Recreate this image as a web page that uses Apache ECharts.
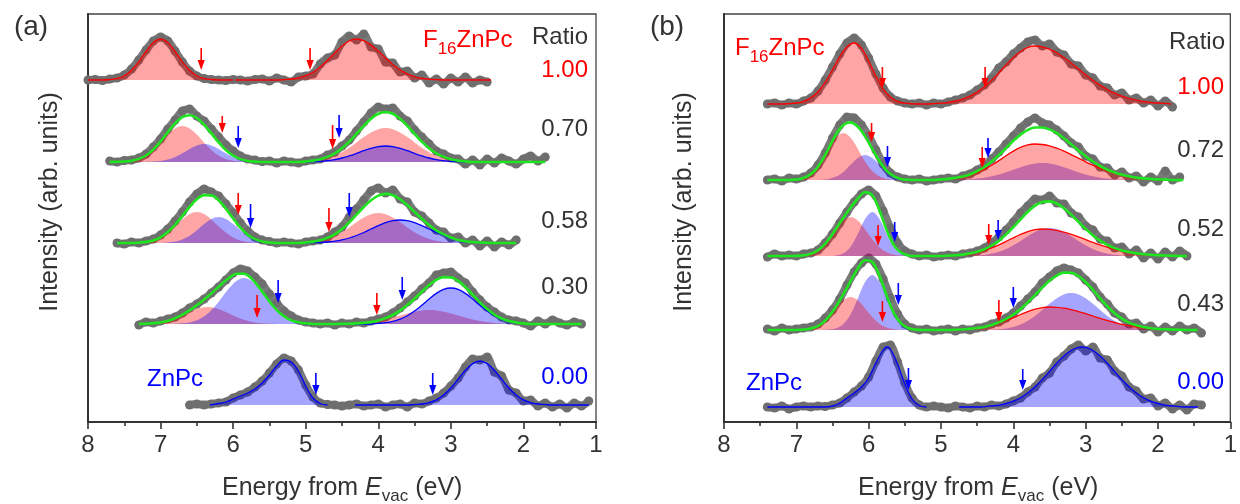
<!DOCTYPE html>
<html><head><meta charset="utf-8">
<script src="https://cdn.jsdelivr.net/npm/echarts@6/dist/echarts.min.js"></script>
<style>html,body{margin:0;padding:0;background:#fff}#c{width:1240px;height:504px}</style>
</head><body><div id="c"></div>
<script>
// ---------- DATA (heights in plot units above each trace's baseline) ----------
const xTicks = [8, 7, 6, 5, 4, 3, 2, 1];
const STEP = 0.1;
const aOffsets = [342, 260, 179, 98, 17];
const bOffsets = [318, 242, 166, 92, 15];
const aStarts = [8.0, 7.7, 7.6, 7.3, 6.6];
const bStarts = [7.4, 7.4, 7.4, 7.4, 7.4];
const aRatios = ['1.00', '0.70', '0.58', '0.30', '0.00'];
const bRatios = ['1.00', '0.72', '0.52', '0.43', '0.00'];

// measured spectra (gray dots)
const a1_data = [0,0.5,-0.5,1,2,5,11,20,30,39,43,39,29,18,9,4,1.5,0.5,0,-0.5,0.5,0,-1,0.5,1,-1,2,0,-2,3,4,6,16,22,25,38,44,40,46,33,31,18,17,8,9,2,5,-3,1,-4,2,-2,3,-3,0,-2];
const a2_data = [1,0,1.5,2,4,8,15,23,33,42,51,53,46,41,33,25,17,11,6,3,2,0.5,1,-1,1,0,-1,1,2,3,7,10,16,22,31,40,49,55,53,54,46,41,32,25,18,11,8,4,3,-2,2,-3,3,-1,4,1,-2,3,6,1,5];
const a3_data = [0,-1,1,0,2,4,8,14,22,31,41,49,54,51,47,39,30,20,12,6,3,1.5,0,1,0,-1,1,2,3,6,11,16,26,34,43,52,55,50,53,44,41,31,27,20,13,11,5,6,0,3,-3,2,-4,1,-2,3];
const a4_data = [-1,2,1,3,5,7,11,16,20,25,31,37,44,51,55,53,47,40,30,21,13,8,4,2,1,0,1,-1,1,0,2,1,3,5,7,11,16,22,28,35,41,49,51,52,46,41,32,24,17,12,7,4,3,1,-2,3,0,4,1,-1,2,0];
const a5_data = [0,1,0,1,2,3,7,10,13,18,24,32,41,47,44,35,20,8,2,0.5,0,-1,0,1,-1,0,1,-2,0,1,-2,2,1,4,7,12,19,27,38,46,45,48,33,29,15,12,4,5,-1,2,-2,1,-3,2,-1,4];
const b1_data = [0,1,-1,1,0,3,6,13,24,37,50,61,66,59,46,30,16,7,3,1,0,1,-1,1,0,2,4,6,9,14,19,26,36,42,50,56,62,64,58,60,52,49,40,38,29,26,18,16,9,11,4,6,1,4,-2,3,-3];
const b2_data = [0,1,-1,2,1,3,7,15,27,42,55,63,62,55,44,30,16,7,3,1,0,1,-1,0,1,2,1,4,6,10,14,21,28,36,44,52,58,62,57,55,50,44,37,33,24,21,13,12,5,8,2,4,-2,3,-1,9,0,3];
const b3_data = [-1,2,0,1,0,2,3,6,13,22,33,44,54,62,66,60,45,28,13,5,2,0,1,-1,0,1,0,2,3,5,8,13,19,26,34,43,50,57,56,60,53,52,43,39,30,26,17,15,8,9,2,6,-2,3,-3,4,-1,5,0];
const b4_data = [1,-1,2,0,1,2,3,6,12,20,31,45,58,67,72,66,51,32,16,6,2,0,1,-1,0,1,-1,1,0,2,3,6,8,12,17,24,31,38,47,53,59,62,60,57,50,43,33,26,17,13,6,7,1,4,-2,3,-1,4,0,2,-3];
const b5_data = [0,-1,1,-2,0,1,0,1,0.5,2,4,9,15,21,30,46,60,62,45,24,9,2,0,1,0,-1,1,0,-1,1,0,2,1,3,6,9,15,20,29,34,45,51,58,62,56,60,49,47,36,31,20,16,8,9,1,4,-2,2,-3,3,2];

// fitted components [energy, height]
const a1_red1 = [[8.0,0],[7.8,0],[7.7,0.5],[7.6,1.6],[7.5,4.3],[7.4,9.7],[7.3,18.2],[7.2,28.5],[7.1,37.4],[7.0,41],[6.9,37.4],[6.8,28.5],[6.7,18.2],[6.6,9.7],[6.5,4.3],[6.4,1.6],[6.3,0.5],[6.2,0],[6.0,0]];
const a1_red2 = [[5.97,0],[5.4,0],[5.3,0.4],[5.2,1.0],[5.1,2.2],[5.0,4.3],[4.9,7.8],[4.8,13.0],[4.7,19.7],[4.6,27.1],[4.5,34.1],[4.4,39.2],[4.3,41],[4.2,39.4],[4.1,35.1],[4.0,29.0],[3.9,22.1],[3.8,15.6],[3.7,10.2],[3.6,6.2],[3.5,3.5],[3.4,1.8],[3.3,0.9],[3.2,0.4],[3.1,0],[2.45,0]];
const a2_red1 = [[7.6,0],[7.5,0.5],[7.4,1.3],[7.3,3.1],[7.2,6.5],[7.1,12.0],[7.0,19.4],[6.9,27.4],[6.8,33.6],[6.7,36],[6.6,33.6],[6.5,27.4],[6.4,19.4],[6.3,12.0],[6.2,6.5],[6.1,3.1],[6.0,1.3],[5.9,0.5],[5.8,0]];
const a2_blue1 = [[7.2,0],[7.1,0.4],[7.0,1.0],[6.9,2.4],[6.8,5.0],[6.7,8.8],[6.6,13.1],[6.5,16.6],[6.4,18],[6.3,16.6],[6.2,13.1],[6.1,8.8],[6.0,5.0],[5.9,2.4],[5.8,1.0],[5.7,0.4],[5.6,0]];
const a2_red2 = [[5.1,0],[5.0,0.5],[4.9,1.1],[4.8,2.0],[4.7,3.7],[4.6,6.2],[4.5,9.8],[4.4,14.2],[4.3,19.6],[4.2,24.9],[4.1,29.6],[4.0,32.8],[3.9,34],[3.8,32.8],[3.7,29.6],[3.6,24.9],[3.5,19.6],[3.4,14.2],[3.3,9.8],[3.2,6.2],[3.1,3.7],[3.0,2.0],[2.9,1.1],[2.8,0.5],[2.7,0]];
const a2_blue2 = [[5.1,0],[5.0,0],[4.9,0.3],[4.8,0.7],[4.7,1.4],[4.6,2.4],[4.5,4.0],[4.4,6.1],[4.3,8.6],[4.2,11.3],[4.1,13.7],[4.0,15.4],[3.9,16],[3.8,15.4],[3.7,13.7],[3.6,11.3],[3.5,8.6],[3.4,6.1],[3.3,4.0],[3.2,2.4],[3.1,1.4],[3.0,0.7],[2.9,0.3],[2.8,0],[2.6,0]];
const a2_fit = [[7.7,0],[7.6,0.2],[7.5,0.5],[7.4,1.3],[7.3,3.1],[7.2,6.5],[7.1,12.4],[7.0,20.4],[6.9,29.8],[6.8,38.6],[6.7,44.8],[6.6,46.7],[6.5,44.0],[6.4,37.4],[6.3,28.6],[6.2,19.6],[6.1,11.9],[6.0,6.3],[5.9,2.9],[5.8,1.0],[5.7,0.4],[5.6,0],[5.1,0],[5.0,0.5],[4.9,1.4],[4.8,2.7],[4.7,5.1],[4.6,8.6],[4.5,13.8],[4.4,20.3],[4.3,28.2],[4.2,36.2],[4.1,43.3],[4.0,48.2],[3.9,50],[3.8,48.2],[3.7,43.3],[3.6,36.2],[3.5,28.2],[3.4,20.3],[3.3,13.8],[3.2,8.6],[3.1,5.1],[3.0,2.7],[2.9,1.4],[2.8,0.5],[2.7,0],[1.7,0]];
const a3_red1 = [[7.4,0],[7.3,0.4],[7.2,1.1],[7.1,2.6],[7.0,5.6],[6.9,10.4],[6.8,16.7],[6.7,23.6],[6.6,29.0],[6.5,31],[6.4,29.0],[6.3,23.6],[6.2,16.7],[6.1,10.4],[6.0,5.6],[5.9,2.6],[5.8,1.1],[5.7,0.4],[5.6,0]];
const a3_blue1 = [[7.0,0],[6.9,0.5],[6.8,1.5],[6.7,3.5],[6.6,7.2],[6.5,12.7],[6.4,18.9],[6.3,24.0],[6.2,26],[6.1,24.0],[6.0,18.9],[5.9,12.7],[5.8,7.2],[5.7,3.5],[5.6,1.5],[5.5,0.5],[5.4,0]];
const a3_red2 = [[5.1,0],[5.0,0.5],[4.9,1.1],[4.8,2.2],[4.7,4.1],[4.6,6.9],[4.5,10.8],[4.4,15.6],[4.3,20.8],[4.2,25.5],[4.1,28.8],[4.0,30],[3.9,28.8],[3.8,25.5],[3.7,20.8],[3.6,15.6],[3.5,10.8],[3.4,6.9],[3.3,4.1],[3.2,2.2],[3.1,1.1],[3.0,0.5],[2.9,0]];
const a3_blue2 = [[5.1,0],[5.0,0],[4.9,0.3],[4.8,0.5],[4.7,1.0],[4.6,1.8],[4.5,3.1],[4.4,5.0],[4.3,7.5],[4.2,10.5],[4.1,14.0],[4.0,17.4],[3.9,20.3],[3.8,22.3],[3.7,23],[3.6,22.3],[3.5,20.3],[3.4,17.4],[3.3,14.0],[3.2,10.5],[3.1,7.5],[3.0,5.0],[2.9,3.1],[2.8,1.8],[2.7,1.0],[2.6,0.5],[2.5,0.3],[2.4,0]];
const a3_fit = [[7.6,0],[7.4,0],[7.3,0.4],[7.2,1.1],[7.1,2.6],[7.0,5.6],[6.9,10.9],[6.8,18.2],[6.7,27.1],[6.6,36.2],[6.5,43.7],[6.4,47.9],[6.3,47.6],[6.2,42.7],[6.1,34.4],[6.0,24.5],[5.9,15.3],[5.8,8.3],[5.7,3.9],[5.6,1.5],[5.5,0.5],[5.4,0],[5.1,0],[5.0,0.5],[4.9,1.4],[4.8,2.7],[4.7,5.1],[4.6,8.7],[4.5,13.9],[4.4,20.6],[4.3,28.3],[4.2,36.0],[4.1,42.8],[4.0,47.4],[3.9,49.1],[3.8,47.8],[3.7,43.8],[3.6,37.9],[3.5,31.1],[3.4,24.3],[3.3,18.1],[3.2,12.7],[3.1,8.6],[3.0,5.5],[2.9,3.1],[2.8,1.8],[2.7,1.0],[2.6,0.5],[2.5,0.3],[2.4,0],[2.1,0]];
const a4_red1 = [[7.35,0],[7.25,0.2],[7.15,0.5],[7.05,1.1],[6.95,2.3],[6.85,4.2],[6.75,7.0],[6.65,10.3],[6.55,13.6],[6.45,16.1],[6.35,17],[6.25,16.1],[6.15,13.6],[6.05,10.3],[5.95,7.0],[5.85,4.2],[5.75,2.3],[5.65,1.1],[5.55,0.5],[5.45,0.2],[5.35,0]];
const a4_blue1 = [[6.85,0],[6.75,0.4],[6.65,1.0],[6.55,2.5],[6.45,5.4],[6.35,10.4],[6.25,17.8],[6.15,27.0],[6.05,36.2],[5.95,43.3],[5.85,46],[5.75,43.3],[5.65,36.2],[5.55,27.0],[5.45,17.8],[5.35,10.4],[5.25,5.4],[5.15,2.5],[5.05,1.0],[4.95,0.4],[4.85,0]];
const a4_red2 = [[4.6,0],[4.5,0.2],[4.4,0.3],[4.3,0.6],[4.2,1.1],[4.1,1.9],[4.0,3.0],[3.9,4.6],[3.8,6.4],[3.7,8.5],[3.6,10.6],[3.5,12.3],[3.4,13.6],[3.3,14],[3.2,13.6],[3.1,12.3],[3.0,10.6],[2.9,8.5],[2.8,6.4],[2.7,4.6],[2.6,3.0],[2.5,1.9],[2.4,1.1],[2.3,0.6],[2.2,0.3],[2.1,0.2],[2.0,0]];
const a4_blue2 = [[5.0,0],[4.1,0],[4.0,0.6],[3.9,1.3],[3.8,2.6],[3.7,4.9],[3.6,8.3],[3.5,13.0],[3.4,18.7],[3.3,24.9],[3.2,30.6],[3.1,34.6],[3.0,36],[2.9,34.6],[2.8,30.6],[2.7,24.9],[2.6,18.7],[2.5,13.0],[2.4,8.3],[2.3,4.9],[2.2,2.6],[2.1,1.3],[2.0,0.6],[1.9,0],[1.3,0]];
const a4_fit = [[7.3,0],[7.25,0.2],[7.15,0.5],[7.05,1.1],[6.95,2.3],[6.85,4.2],[6.75,7.4],[6.65,11.3],[6.55,16.1],[6.45,21.5],[6.35,27.4],[6.25,33.9],[6.15,40.6],[6.05,46.5],[5.95,50.3],[5.85,50.2],[5.75,45.6],[5.65,37.3],[5.55,27.5],[5.45,18.0],[5.35,10.4],[5.25,5.4],[5.15,2.5],[5.05,1.0],[4.95,0.4],[4.85,0],[4.6,0],[4.5,0.2],[4.4,0.3],[4.3,0.6],[4.2,1.1],[4.1,1.9],[4.0,3.6],[3.9,5.9],[3.8,9.0],[3.7,13.4],[3.6,18.9],[3.5,25.3],[3.4,32.3],[3.3,38.9],[3.2,44.2],[3.1,46.9],[3.0,46.6],[2.9,43.1],[2.8,37.0],[2.7,29.5],[2.6,21.7],[2.5,14.9],[2.4,9.4],[2.3,5.5],[2.2,2.9],[2.1,1.5],[2.0,0.6],[1.9,0],[1.2,0]];
const a5_blue1 = [[6.32,0],[6.2,1.5],[6.1,3],[6.0,6],[5.9,9],[5.8,12],[5.7,16],[5.6,22],[5.5,30],[5.4,39],[5.3,45],[5.2,43],[5.1,34],[5.0,19],[4.9,7],[4.8,1.5],[4.7,0]];
const a5_blue2 = [[4.32,0],[3.6,0],[3.5,0.4],[3.4,1.0],[3.3,2.4],[3.2,5.1],[3.1,10.0],[3.0,17.0],[2.9,25.9],[2.8,34.7],[2.7,41.4],[2.6,44],[2.5,41.4],[2.4,34.7],[2.3,25.9],[2.2,17.0],[2.1,10.0],[2.0,5.1],[1.9,2.4],[1.8,1.0],[1.7,0.4],[1.6,0],[1.1,0]];

const b1_red1 = [[7.4,0],[7.2,0],[7.1,0.4],[7.0,1.0],[6.9,2.7],[6.8,6.2],[6.7,12.3],[6.6,22.0],[6.5,34.3],[6.4,47.3],[6.3,57.2],[6.2,61],[6.1,55.9],[6.0,43.1],[5.9,27.9],[5.8,15.2],[5.7,7.0],[5.6,2.7],[5.5,0.9],[5.4,0.2],[5.3,0]];
const b1_red2 = [[5.33,0],[5.2,0],[5.1,0.4],[5.0,0.9],[4.9,1.7],[4.8,3.0],[4.7,4.9],[4.6,7.8],[4.5,11.9],[4.4,17.3],[4.3,23.8],[4.2,31.3],[4.1,39.1],[4.0,46.5],[3.9,52.5],[3.8,56.6],[3.7,58],[3.6,57.2],[3.5,54.9],[3.4,51.2],[3.3,46.5],[3.2,41.0],[3.1,35.2],[3.0,29.3],[2.9,23.8],[2.8,18.9],[2.7,14.4],[2.6,10.8],[2.5,7.8],[2.4,5.6],[2.3,3.8],[2.2,2.6],[2.1,1.7],[2.0,1.0],[1.9,0.6],[1.82,0]];
const b2_red1 = [[7.15,0],[7.05,0.3],[6.95,1.1],[6.85,3.6],[6.75,9.0],[6.65,18.6],[6.55,31.1],[6.45,42.4],[6.35,47],[6.25,42.4],[6.15,31.1],[6.05,18.6],[5.95,9.0],[5.85,3.6],[5.75,1.1],[5.65,0.3],[5.55,0]];
const b2_blue1 = [[6.75,0],[6.65,0.3],[6.55,1.1],[6.45,3.4],[6.35,8.1],[6.25,15.2],[6.15,22.1],[6.05,25],[5.95,22.1],[5.85,15.2],[5.75,8.1],[5.65,3.4],[5.55,1.1],[5.45,0.3],[5.35,0]];
const b2_red2 = [[5.1,0],[5.0,0.6],[4.9,1.1],[4.8,1.9],[4.7,3.0],[4.6,4.8],[4.5,7.4],[4.4,10.7],[4.3,14.8],[4.2,19.4],[4.1,24.3],[4.0,28.9],[3.9,32.6],[3.8,35.1],[3.7,36],[3.6,35.5],[3.5,34.1],[3.4,31.8],[3.3,28.9],[3.2,25.4],[3.1,21.8],[3.0,18.2],[2.9,14.8],[2.8,11.7],[2.7,8.9],[2.6,6.7],[2.5,4.8],[2.4,3.5],[2.3,2.4],[2.2,1.6],[2.1,1.1],[2.0,0.6],[1.9,0.4],[1.8,0]];
const b2_blue2 = [[4.9,0],[4.8,0.2],[4.7,0.4],[4.6,0.7],[4.5,1.4],[4.4,2.3],[4.3,3.7],[4.2,5.5],[4.1,7.8],[4.0,10.3],[3.9,12.8],[3.8,15.0],[3.7,16.5],[3.6,17],[3.5,16.5],[3.4,15.0],[3.3,12.8],[3.2,10.3],[3.1,7.8],[3.0,5.5],[2.9,3.7],[2.8,2.3],[2.7,1.4],[2.6,0.7],[2.5,0.4],[2.4,0.2],[2.3,0]];
const b2_fit = [[7.4,0],[7.15,0],[7.05,0.3],[6.95,1.1],[6.85,3.6],[6.75,9.0],[6.65,18.9],[6.55,32.2],[6.45,45.8],[6.35,55.1],[6.25,57.6],[6.15,53.2],[6.05,43.6],[5.95,31.1],[5.85,18.8],[5.75,9.2],[5.65,3.7],[5.55,1.1],[5.45,0.3],[5.35,0],[5.1,0],[5.0,0.6],[4.9,1.1],[4.8,2.1],[4.7,3.4],[4.6,5.5],[4.5,8.8],[4.4,13.0],[4.3,18.5],[4.2,24.9],[4.1,32.1],[4.0,39.2],[3.9,45.4],[3.8,50.1],[3.7,52.5],[3.6,52.5],[3.5,50.6],[3.4,46.8],[3.3,41.7],[3.2,35.7],[3.1,29.6],[3.0,23.7],[2.9,18.5],[2.8,14.0],[2.7,10.3],[2.6,7.4],[2.5,5.2],[2.4,3.7],[2.3,2.4],[2.2,1.6],[2.1,1.1],[2.0,0.6],[1.9,0.4],[1.8,0],[1.65,0]];
const b3_red1 = [[7.05,0],[6.95,0.4],[6.85,1.3],[6.75,3.7],[6.65,8.6],[6.55,16.7],[6.45,26.7],[6.35,35.5],[6.25,39],[6.15,35.5],[6.05,26.7],[5.95,16.7],[5.85,8.6],[5.75,3.7],[5.65,1.3],[5.55,0.4],[5.45,0]];
const b3_blue1 = [[6.55,0],[6.45,0.6],[6.35,2.8],[6.25,9.3],[6.15,22.0],[6.05,37.0],[5.95,44],[5.85,37.0],[5.75,22.0],[5.65,9.3],[5.55,2.8],[5.45,0.6],[5.35,0]];
const b3_red2 = [[5.0,0],[4.9,0.4],[4.8,0.8],[4.7,1.4],[4.6,2.3],[4.5,3.6],[4.4,5.5],[4.3,8.1],[4.2,11.1],[4.1,14.6],[4.0,18.2],[3.9,21.6],[3.8,24.4],[3.7,26.3],[3.6,27],[3.5,26.6],[3.4,25.6],[3.3,23.8],[3.2,21.6],[3.1,19.1],[3.0,16.4],[2.9,13.6],[2.8,11.1],[2.7,8.8],[2.6,6.7],[2.5,5.0],[2.4,3.6],[2.3,2.6],[2.2,1.8],[2.1,1.2],[2.0,0.8],[1.9,0.5],[1.8,0.3],[1.7,0]];
const b3_blue2 = [[4.7,0],[4.6,0.3],[4.5,0.6],[4.4,1.2],[4.3,2.4],[4.2,4.2],[4.1,7.0],[4.0,10.7],[3.9,15.1],[3.8,19.8],[3.7,24.0],[3.6,26.9],[3.5,28],[3.4,26.9],[3.3,24.0],[3.2,19.8],[3.1,15.1],[3.0,10.7],[2.9,7.0],[2.8,4.2],[2.7,2.4],[2.6,1.2],[2.5,0.6],[2.4,0.3],[2.3,0]];
const b3_fit = [[7.4,0],[7.05,0],[6.95,0.4],[6.85,1.3],[6.75,3.7],[6.65,8.6],[6.55,16.7],[6.45,27.3],[6.35,38.3],[6.25,48.3],[6.15,57.5],[6.05,63.7],[5.95,60.7],[5.85,45.6],[5.75,25.7],[5.65,10.6],[5.55,3.2],[5.45,0.6],[5.35,0],[5.0,0],[4.9,0.4],[4.8,0.8],[4.7,1.4],[4.6,2.6],[4.5,4.2],[4.4,6.7],[4.3,10.5],[4.2,15.3],[4.1,21.6],[4.0,28.9],[3.9,36.7],[3.8,44.2],[3.7,50.3],[3.6,53.9],[3.5,54.6],[3.4,52.5],[3.3,47.8],[3.2,41.4],[3.1,34.2],[3.0,27.1],[2.9,20.6],[2.8,15.3],[2.7,11.2],[2.6,7.9],[2.5,5.6],[2.4,3.9],[2.3,2.6],[2.2,1.8],[2.1,1.2],[2.0,0.8],[1.9,0.5],[1.8,0.3],[1.7,0],[1.6,0]];
const b4_red1 = [[7.05,0],[6.95,0.2],[6.85,0.8],[6.75,2.5],[6.65,6.3],[6.55,13.0],[6.45,21.8],[6.35,29.8],[6.25,33],[6.15,29.8],[6.05,21.8],[5.95,13.0],[5.85,6.3],[5.75,2.5],[5.65,0.8],[5.55,0.2],[5.45,0]];
const b4_blue1 = [[6.65,0],[6.55,0.4],[6.45,1.7],[6.35,6.1],[6.25,15.8],[6.15,31.6],[6.05,47.9],[5.95,55],[5.85,47.9],[5.75,31.6],[5.65,15.8],[5.55,6.1],[5.45,1.7],[5.35,0.4],[5.25,0]];
const b4_red2 = [[4.9,0],[4.8,0.3],[4.7,0.7],[4.6,1.2],[4.5,2.0],[4.4,3.1],[4.3,4.7],[4.2,6.9],[4.1,9.5],[4.0,12.4],[3.9,15.5],[3.8,18.4],[3.7,20.8],[3.6,22.4],[3.5,23],[3.4,22.7],[3.3,21.8],[3.2,20.3],[3.1,18.4],[3.0,16.3],[2.9,14.0],[2.8,11.6],[2.7,9.5],[2.6,7.5],[2.5,5.7],[2.4,4.3],[2.3,3.1],[2.2,2.2],[2.1,1.5],[2.0,1.0],[1.9,0.7],[1.8,0.4],[1.7,0.3],[1.6,0]];
const b4_blue2 = [[4.4,0],[4.3,0.3],[4.2,0.8],[4.1,1.6],[4.0,3.1],[3.9,5.6],[3.8,9.2],[3.7,14.1],[3.6,20.0],[3.5,26.2],[3.4,31.7],[3.3,35.6],[3.2,37],[3.1,35.6],[3.0,31.7],[2.9,26.2],[2.8,20.0],[2.7,14.1],[2.6,9.2],[2.5,5.6],[2.4,3.1],[2.3,1.6],[2.2,0.8],[2.1,0.3],[2.0,0]];
const b4_fit = [[7.4,0],[7.05,0],[6.95,0.2],[6.85,0.8],[6.75,2.5],[6.65,6.3],[6.55,13.4],[6.45,23.5],[6.35,35.9],[6.25,48.8],[6.15,61.4],[6.05,69.7],[5.95,68.0],[5.85,54.2],[5.75,34.1],[5.65,16.6],[5.55,6.3],[5.45,1.7],[5.35,0.4],[5.25,0],[4.9,0],[4.8,0.3],[4.7,0.7],[4.6,1.2],[4.5,2.0],[4.4,3.1],[4.3,5.0],[4.2,7.7],[4.1,11.1],[4.0,15.5],[3.9,21.1],[3.8,27.6],[3.7,34.9],[3.6,42.4],[3.5,49.2],[3.4,54.4],[3.3,57.4],[3.2,57.3],[3.1,54.0],[3.0,48.0],[2.9,40.2],[2.8,31.6],[2.7,23.6],[2.6,16.7],[2.5,11.3],[2.4,7.4],[2.3,4.7],[2.2,3.0],[2.1,1.8],[2.0,1.0],[1.9,0.7],[1.8,0.4],[1.7,0.3],[1.6,0],[1.45,0]];
const b5_blue1 = [[7.4,0],[6.6,0],[6.5,1],[6.4,4],[6.3,9],[6.2,14],[6.1,20],[6.0,29],[5.9,44],[5.8,57],[5.75,60],[5.7,58],[5.6,43],[5.5,23],[5.4,8],[5.3,1.5],[5.2,0]];
const b5_blue2 = [[4.75,0],[4.45,0],[4.35,0.8],[4.25,1.4],[4.15,2.6],[4.05,4.6],[3.95,7.3],[3.85,11.5],[3.75,16.9],[3.65,23.7],[3.55,31.4],[3.45,39.7],[3.35,47.6],[3.25,54.1],[3.15,58.5],[3.05,60],[2.95,58.5],[2.85,54.1],[2.75,47.6],[2.65,39.7],[2.55,31.4],[2.45,23.7],[2.35,16.9],[2.25,11.5],[2.15,7.3],[2.05,4.6],[1.95,2.6],[1.85,1.4],[1.75,0.8],[1.65,0],[1.45,0]];

// arrows: [trace index, energy, top height, tip height, component]
const aArrows = [[0,6.44,32,10,'r'],[0,4.94,32,10,'r'],[1,6.15,46,29,'r'],[1,5.93,36,14,'b'],[1,4.63,37,13,'r'],[1,4.54,47,24,'b'],[2,5.93,50,28,'r'],[2,5.76,39,15,'b'],[2,4.68,35,11,'r'],[2,4.40,50,26,'b'],[3,5.67,29,6,'r'],[3,5.38,44,21,'b'],[3,4.02,31,9,'r'],[3,3.67,47,24,'b'],[4,4.86,32,10,'b'],[4,3.25,32,10,'b']];
const bArrows = [[0,5.81,37,16,'r'],[0,4.39,37,16,'r'],[1,5.96,57,38,'r'],[1,5.74,34,13,'b'],[1,4.43,33,12,'r'],[1,4.35,42,22,'b'],[2,5.87,31,10,'r'],[2,5.64,34,14,'b'],[2,4.34,32,11,'r'],[2,4.21,36,16,'b'],[3,5.81,29,8,'r'],[3,5.59,47,25,'b'],[3,4.2,30,8,'r'],[3,4.0,43,22,'b'],[4,5.45,39,17,'b'],[4,3.87,38,17,'b']];

// ---------- BUILD ----------
const FONT = 'Liberation Sans, Arial, Helvetica, sans-serif';
const RED = '#ff0000', BLUE = '#0000ff', DARK = '#333333';
const series = [];
function yIdx(panel, k) { return 2 + panel * 5 + k; }
function addData(panel, k, start, vals) {
  series.push({type:'line', xAxisIndex:panel, yAxisIndex:yIdx(panel,k), silent:true,
    data: vals.map((v,i)=>[+(start - i*STEP).toFixed(2), v]),
    symbol:'circle', symbolSize:9, showSymbol:true, smooth:0.2,
    itemStyle:{color:'#6e6e6e'}, lineStyle:{color:'#7a7a7a', width:8, join:'round', cap:'round'}, z:1});
}
function addPeak(panel, k, pts, col, outline, z) {
  const fill = col === 'r' ? 'rgba(255,0,0,0.5)' : 'rgba(0,0,255,0.5)';
  const line = col === 'r' ? RED : BLUE;
  series.push({type:'line', xAxisIndex:panel, yAxisIndex:yIdx(panel,k), silent:true,
    data: pts, smooth:0.35, symbol:'none',
    areaStyle:{color:fill, origin:'auto'},
    lineStyle:{color:line, width: outline ? 1.3 : 0, opacity: outline ? 1 : 0}, z});
}
function addFit(panel, k, pts) {
  series.push({type:'line', xAxisIndex:panel, yAxisIndex:yIdx(panel,k), silent:true,
    data: pts, smooth:0.35, symbol:'none', lineStyle:{color:'#1ee61e', width:2.6}, z:6});
}
function addArrows(panel, arr) {
  for (let k = 0; k < 5; k++) {
    const items = arr.filter(a => a[0] === k).map(a => ({value:[a[1], a[2], a[3]], itemStyle:{color: a[4]==='r' ? RED : BLUE}}));
    series.push({type:'custom', xAxisIndex:panel, yAxisIndex:yIdx(panel,k), silent:true, z:8,
      encode:{x:0, y:[1,2]}, data: items,
      renderItem: function (params, api) {
        const p1 = api.coord([api.value(0), api.value(1)]);
        const p2 = api.coord([api.value(0), api.value(2)]);
        const c = api.visual('color');
        return {type:'group', children:[
          {type:'line', shape:{x1:p1[0], y1:p1[1], x2:p2[0], y2:p2[1]-8}, style:{stroke:c, lineWidth:1.6}},
          {type:'polygon', shape:{points:[[p2[0]-3.6, p2[1]-10],[p2[0]+3.6, p2[1]-10],[p2[0], p2[1]]]}, style:{fill:c}}
        ]};
      }});
  }
}

// panel (a): blue drawn over red
const aData = [a1_data, a2_data, a3_data, a4_data, a5_data];
aData.forEach((d,k)=>addData(0, k, aStarts[k], d));
addPeak(0,0,a1_red1,'r',true,2); addPeak(0,0,a1_red2,'r',true,2);
addPeak(0,1,a2_red1,'r',false,2); addPeak(0,1,a2_blue1,'b',false,3); addPeak(0,1,a2_red2,'r',false,2); addPeak(0,1,a2_blue2,'b',true,3); addFit(0,1,a2_fit);
addPeak(0,2,a3_red1,'r',false,2); addPeak(0,2,a3_blue1,'b',false,3); addPeak(0,2,a3_red2,'r',false,2); addPeak(0,2,a3_blue2,'b',true,3); addFit(0,2,a3_fit);
addPeak(0,3,a4_red1,'r',false,2); addPeak(0,3,a4_blue1,'b',false,3); addPeak(0,3,a4_red2,'r',false,2); addPeak(0,3,a4_blue2,'b',true,3); addFit(0,3,a4_fit);
addPeak(0,4,a5_blue1,'b',true,3); addPeak(0,4,a5_blue2,'b',true,3);
addArrows(0, aArrows);

// panel (b): red drawn over blue
const bData = [b1_data, b2_data, b3_data, b4_data, b5_data];
bData.forEach((d,k)=>addData(1, k, bStarts[k], d));
addPeak(1,0,b1_red1,'r',true,3); addPeak(1,0,b1_red2,'r',true,3);
addPeak(1,1,b2_blue1,'b',false,2); addPeak(1,1,b2_red1,'r',false,3); addPeak(1,1,b2_blue2,'b',false,2); addPeak(1,1,b2_red2,'r',true,3); addFit(1,1,b2_fit);
addPeak(1,2,b3_blue1,'b',false,2); addPeak(1,2,b3_red1,'r',false,3); addPeak(1,2,b3_blue2,'b',false,2); addPeak(1,2,b3_red2,'r',true,3); addFit(1,2,b3_fit);
addPeak(1,3,b4_blue1,'b',false,2); addPeak(1,3,b4_red1,'r',false,3); addPeak(1,3,b4_blue2,'b',false,2); addPeak(1,3,b4_red2,'r',true,3); addFit(1,3,b4_fit);
addPeak(1,4,b5_blue1,'b',true,3); addPeak(1,4,b5_blue2,'b',true,3);
addArrows(1, bArrows);

function xAxisFor(g) {
  return {gridIndex:g, type:'value', min:xTicks[xTicks.length-1], max:xTicks[0], interval:1, inverse:true,
    axisLine:{onZero:false, lineStyle:{color:DARK, width:2}},
    axisTick:{show:true, inside:false, length:7, lineStyle:{color:DARK, width:1.6}},
    minorTick:{show:true, splitNumber:2, length:4, lineStyle:{color:DARK, width:1.6}},
    axisLabel:{fontSize:24, color:DARK, fontFamily:FONT, margin:11},
    splitLine:{show:false}, minorSplitLine:{show:false}};
}
const yAxes = [0,1].map(g=>({gridIndex:g, type:'value', min:0, max:408,
  axisLine:{show:true, onZero:false, lineStyle:{color:DARK, width:2}}, axisTick:{show:false}, axisLabel:{show:false}, splitLine:{show:false}}));
aOffsets.forEach(o=>yAxes.push({gridIndex:0, type:'value', min:-o, max:408-o, show:false, splitLine:{show:false}}));
bOffsets.forEach(o=>yAxes.push({gridIndex:1, type:'value', min:-o, max:408-o, show:false, splitLine:{show:false}}));

function txt(text, x, y, size, color, align, extra) {
  return Object.assign({type:'text', x, y, z:100, silent:true,
    style:{text, fill:color, fontSize:size, fontFamily:FONT, align, textAlign:align, verticalAlign:'middle', textVerticalAlign:'middle'}}, extra || {});
}
// text with a subscript, built from pieces laid out left-to-right
function subLabel(parts, left, y, color) {
  // parts: [text, fontSize, dy, italic]
  const out = [];
  let x = left;
  const cvs = document.createElement('canvas').getContext('2d');
  parts.forEach(p => {
    const t = txt(p[0], x, y + p[2], p[1], color, 'left');
    if (p[3]) t.style.fontStyle = 'italic';
    out.push(t);
    cvs.font = (p[3] ? 'italic ' : '') + p[1] + 'px ' + FONT;
    x += cvs.measureText(p[0]).width;
  });
  return out;
}
const aRatioY = [70, 129, 221, 287, 377];
const bRatioY = [87, 150, 229, 304, 382];
const ratioColor = (i) => i === 0 ? RED : (i === 4 ? BLUE : DARK);
const graphics = [
  txt('(a)', 31, 27, 28, DARK, 'center'),
  txt('(b)', 667, 27, 28, DARK, 'center'),
  txt('Intensity (arb. units)', 50, 202, 25, DARK, 'center', {rotation: Math.PI/2}),
  txt('Intensity (arb. units)', 684, 202, 25, DARK, 'center', {rotation: Math.PI/2}),
  txt('Ratio', 588, 37, 24, DARK, 'right'),
  txt('Ratio', 1225, 42, 24, DARK, 'right'),
  txt('ZnPc', 147, 379, 24, BLUE, 'left'),
  txt('ZnPc', 746, 383, 24, BLUE, 'left')
];
const f16 = [['F',24,0,false],['16',17,9,false],['ZnPc',24,0,false]];
const eTitle = [['Energy from ',25,0,false],['E',25,0,true],['vac',17,8,false],[' (eV)',25,0,false]];
graphics.push(...subLabel(f16, 423, 40, RED));
graphics.push(...subLabel(f16, 735, 48, RED));
graphics.push(...subLabel(eTitle, 222, 488, DARK));
graphics.push(...subLabel(eTitle, 858, 488, DARK));
aRatios.forEach((r,i)=>graphics.push(txt(r, 588, aRatioY[i], 24, ratioColor(i), 'right')));
bRatios.forEach((r,i)=>graphics.push(txt(r, 1224, bRatioY[i], 24, ratioColor(i), 'right')));

const chart = echarts.init(document.getElementById('c'), null, {renderer:'canvas'});
chart.setOption({
  animation:false,
  backgroundColor:'#ffffff',
  grid:[
    {left:88, top:14, width:508, height:408, show:true, borderColor:'#444', borderWidth:1.3, backgroundColor:'transparent'},
    {left:724, top:14, width:508, height:408, show:true, borderColor:'#444', borderWidth:1.3, backgroundColor:'transparent'}
  ],
  xAxis:[xAxisFor(0), xAxisFor(1)],
  yAxis:yAxes,
  series:series,
  graphic:graphics
});
</script>
</body></html>
